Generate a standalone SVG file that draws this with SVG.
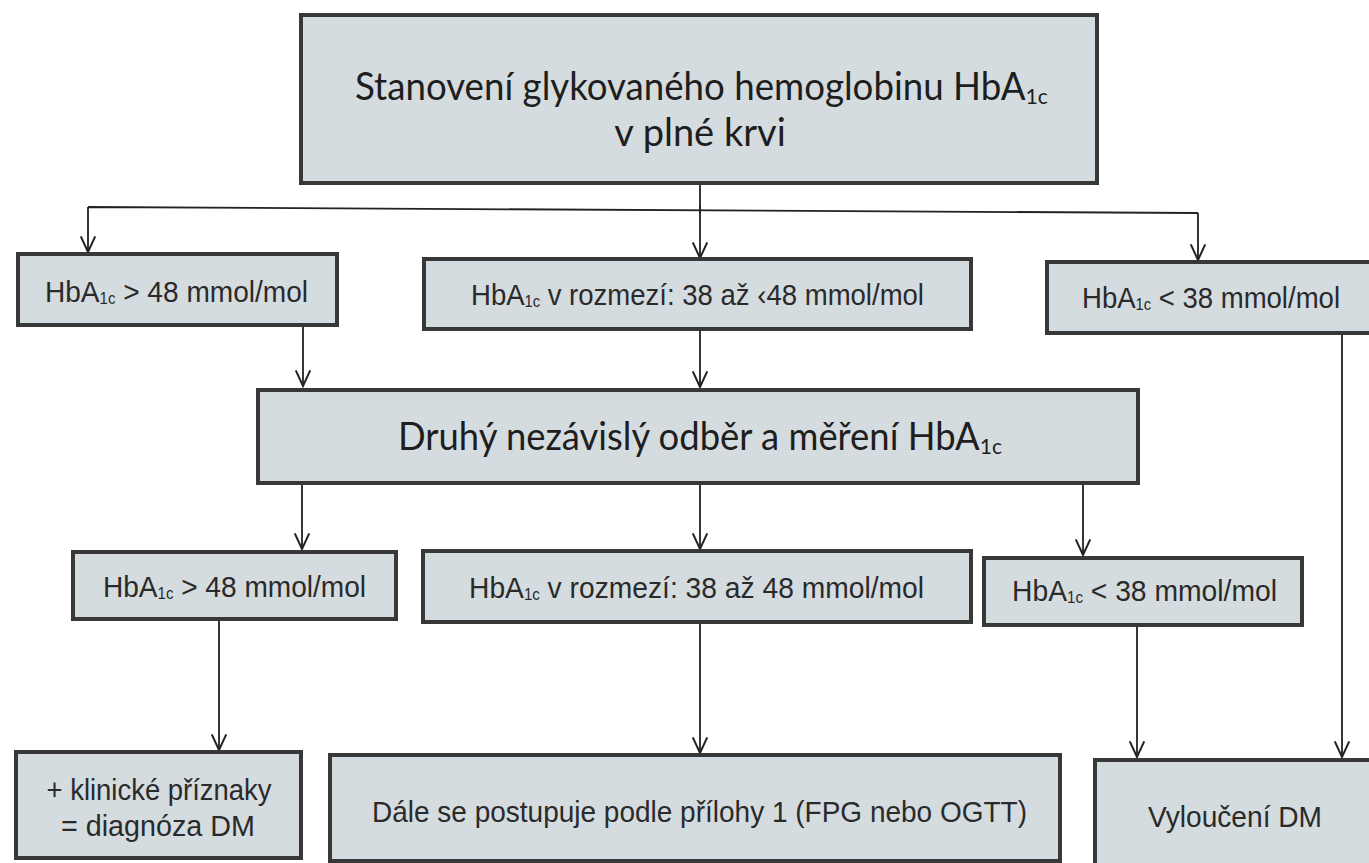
<svg xmlns="http://www.w3.org/2000/svg" width="1369" height="863" viewBox="0 0 1369 863">
<style>
.box{fill:#d5dcdf;stroke:#383838;stroke-width:4}
.big{font-family:Lato,"Open Sans",sans-serif;font-size:38px;fill:#1e1e1e}
.bsub{font-size:22px}
.sm{font-family:"Liberation Sans",Arial,sans-serif;font-size:30px;fill:#2a2a2a}
.sub{font-size:16px}
.ln{fill:none;stroke:#222;stroke-width:1.8;marker-end:url(#ah)}
.ln0{fill:none;stroke:#222;stroke-width:1.8}
</style>
<defs>
<marker id="ah" markerUnits="userSpaceOnUse" markerWidth="20" markerHeight="20" viewBox="-16 -8 18 16" refX="0" refY="0" orient="auto">
<path d="M-14,-6.5 L0,0 L-14,6.5" fill="none" stroke="#222" stroke-width="1.8"/>
</marker>
</defs>
<rect width="1369" height="863" fill="#ffffff"/>
<g id="connectors">
<path class="ln0" d="M700,183 V213"/>
<path class="ln" d="M700,205 V258"/>
<path class="ln" d="M1198,213 V260"/>
<path class="ln" d="M88,207 L1198,213 M88,207 V252"/>
<path class="ln" d="M303,325 V386"/>
<path class="ln" d="M700,329 V387"/>
<path class="ln" d="M1342,333 V757"/>
<path class="ln" d="M302,483 V549"/>
<path class="ln" d="M700,484 V549"/>
<path class="ln" d="M1083,485 V555"/>
<path class="ln" d="M219,619 V750"/>
<path class="ln" d="M700,622 V753"/>
<path class="ln" d="M1137,625 V757"/>
</g>
<g id="n_top">
<rect class="box" x="301" y="15" width="796" height="168"/>
<text class="big" x="355" y="100" textLength="693" lengthAdjust="spacingAndGlyphs">Stanovení glykovaného hemoglobinu HbA<tspan class="bsub" dy="4">1c</tspan></text>
<text class="big" x="700" y="146" text-anchor="middle">v plné krvi</text>
</g>
<g id="n_r1a">
<rect class="box" x="18" y="254" width="319" height="71"/>
<text class="sm" x="45" y="302" textLength="263" lengthAdjust="spacingAndGlyphs">HbA<tspan class="sub" dy="2">1c</tspan><tspan dy="-2"> &gt; 48 mmol/mol</tspan></text>
</g>
<g id="n_r1b">
<rect class="box" x="424" y="259" width="547" height="70"/>
<text class="sm" x="471" y="305" textLength="453" lengthAdjust="spacingAndGlyphs">HbA<tspan class="sub" dy="2">1c</tspan><tspan dy="-2"> v rozmezí: 38 až ‹48 mmol/mol</tspan></text>
</g>
<g id="n_r1c">
<rect class="box" x="1047" y="262" width="330" height="71"/>
<text class="sm" x="1082" y="308" textLength="258" lengthAdjust="spacingAndGlyphs">HbA<tspan class="sub" dy="2">1c</tspan><tspan dy="-2"> &lt; 38 mmol/mol</tspan></text>
</g>
<g id="n_mid">
<rect class="box" x="258" y="390" width="880" height="93"/>
<text class="big" x="398" y="450" textLength="604" lengthAdjust="spacingAndGlyphs">Druhý nezávislý odběr a měření HbA<tspan class="bsub" dy="4">1c</tspan></text>
</g>
<g id="n_r2a">
<rect class="box" x="73" y="552" width="323" height="67"/>
<text class="sm" x="103" y="597" textLength="263" lengthAdjust="spacingAndGlyphs">HbA<tspan class="sub" dy="2">1c</tspan><tspan dy="-2"> &gt; 48 mmol/mol</tspan></text>
</g>
<g id="n_r2b">
<rect class="box" x="423" y="551" width="548" height="71"/>
<text class="sm" x="469" y="598" textLength="455" lengthAdjust="spacingAndGlyphs">HbA<tspan class="sub" dy="2">1c</tspan><tspan dy="-2"> v rozmezí: 38 až 48 mmol/mol</tspan></text>
</g>
<g id="n_r2c">
<rect class="box" x="984" y="558" width="318" height="67"/>
<text class="sm" x="1012" y="601" textLength="265" lengthAdjust="spacingAndGlyphs">HbA<tspan class="sub" dy="2">1c</tspan><tspan dy="-2"> &lt; 38 mmol/mol</tspan></text>
</g>
<g id="n_b1">
<rect class="box" x="16" y="752" width="285" height="106"/>
<text class="sm" x="159" y="800" text-anchor="middle" textLength="225" lengthAdjust="spacingAndGlyphs">+ klinické příznaky</text>
<text class="sm" x="158" y="836" text-anchor="middle" textLength="194" lengthAdjust="spacingAndGlyphs">= diagnóza DM</text>
</g>
<g id="n_b2">
<rect class="box" x="330" y="755" width="730" height="106"/>
<text class="sm" x="372" y="822" textLength="655" lengthAdjust="spacingAndGlyphs">Dále se postupuje podle přílohy 1 (FPG nebo OGTT)</text>
</g>
<g id="n_b3">
<rect class="box" x="1095" y="760" width="290" height="106"/>
<text class="sm" x="1148" y="827" textLength="174" lengthAdjust="spacingAndGlyphs">Vyloučení DM</text>
</g>
</svg>
